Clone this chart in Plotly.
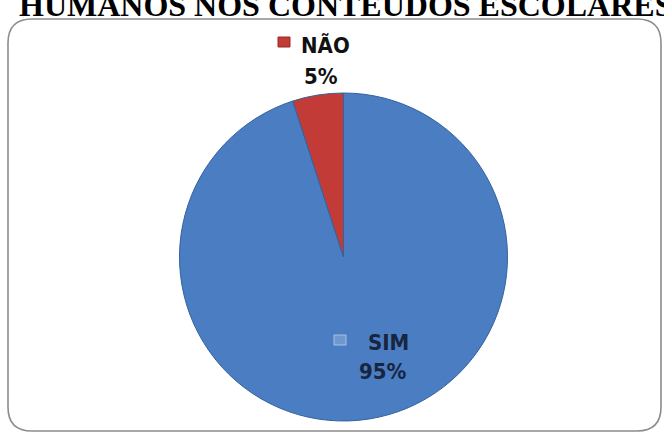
import plotly.graph_objects as go

labels = ["SIM", "NÃO"]
values = [95, 5]
colors = ["#4a7dc2", "#c33b37"]
title_text = "HUMANOS NOS CONTEÚDOS ESCOLARES"

W, H = 664, 434
def px(x): return x / W
def py(y): return 1 - y / H

fig = go.Figure()
fig.add_trace(go.Pie(
    labels=labels, values=values, sort=False, direction="clockwise", rotation=0,
    marker=dict(colors=colors, line=dict(color="#33629e", width=1)),
    textinfo="none", hoverinfo="label+percent", showlegend=False,
    domain=dict(x=[px(177), px(510)], y=[py(421), py(93)]),
))

font_lbl = dict(family="DejaVu Sans Condensed, DejaVu Sans, sans-serif", size=22)
def cond(s):
    return '<span style="font-stretch:condensed"><b>%s</b></span>' % s

pos = {"NÃO": (325, 46, 321, 76, 284, 42, "#111111"),
       "SIM": (388, 342, 383, 371, 340, 340, "#18253f")}
anns = []
shapes = []
for lab, val, c in zip(labels, values, colors):
    lx, ly, vx, vy, sx, sy, col = pos[lab]
    anns.append(dict(x=px(lx), y=py(ly), xref="paper", yref="paper", text=cond(lab),
                     xanchor="center", yanchor="middle",
                     showarrow=False, font=dict(color=col, **font_lbl)))
    anns.append(dict(x=px(vx), y=py(vy), xref="paper", yref="paper", text=cond("%d%%" % val),
                     xanchor="center", yanchor="middle",
                     showarrow=False, font=dict(color=col, **font_lbl)))
    sq_fill = c if lab == "NÃO" else "#6f98cf"
    sq_line = "#9b2926" if lab == "NÃO" else "#a9c2e3"
    shapes.append(dict(type="rect", xref="paper", yref="paper", x0=px(sx - 6), x1=px(sx + 6),
                       y0=py(sy + 5), y1=py(sy - 5), fillcolor=sq_fill,
                       line=dict(color=sq_line, width=1)))

anns.append(dict(x=px(17), y=py(25), xref="paper", yref="paper", xanchor="left", yanchor="bottom",
                 text="<b>%s</b>" % title_text, showarrow=False,
                 font=dict(family="Liberation Serif, DejaVu Serif, serif", size=32, color="#000000")))

# rounded frame
l, t, r, b, rad = 8, 19, 661, 431, 24
path = (f"M {px(l+rad)},{py(t)} L {px(r-rad)},{py(t)} Q {px(r)},{py(t)} {px(r)},{py(t+rad)} "
        f"L {px(r)},{py(b-rad)} Q {px(r)},{py(b)} {px(r-rad)},{py(b)} "
        f"L {px(l+rad)},{py(b)} Q {px(l)},{py(b)} {px(l)},{py(b-rad)} "
        f"L {px(l)},{py(t+rad)} Q {px(l)},{py(t)} {px(l+rad)},{py(t)} Z")
shapes.insert(0, dict(type="path", xref="paper", yref="paper", path=path,
                      line=dict(color="#8c8c8c", width=1.6), fillcolor="rgba(0,0,0,0)", layer="below"))

fig.update_layout(width=W, height=H, margin=dict(l=0, r=0, t=0, b=0),
                  paper_bgcolor="white", plot_bgcolor="white",
                  annotations=anns, shapes=shapes)
fig.write_html("out.html", config={"displayModeBar": False},
               post_script="document.body.style.margin='0';")
